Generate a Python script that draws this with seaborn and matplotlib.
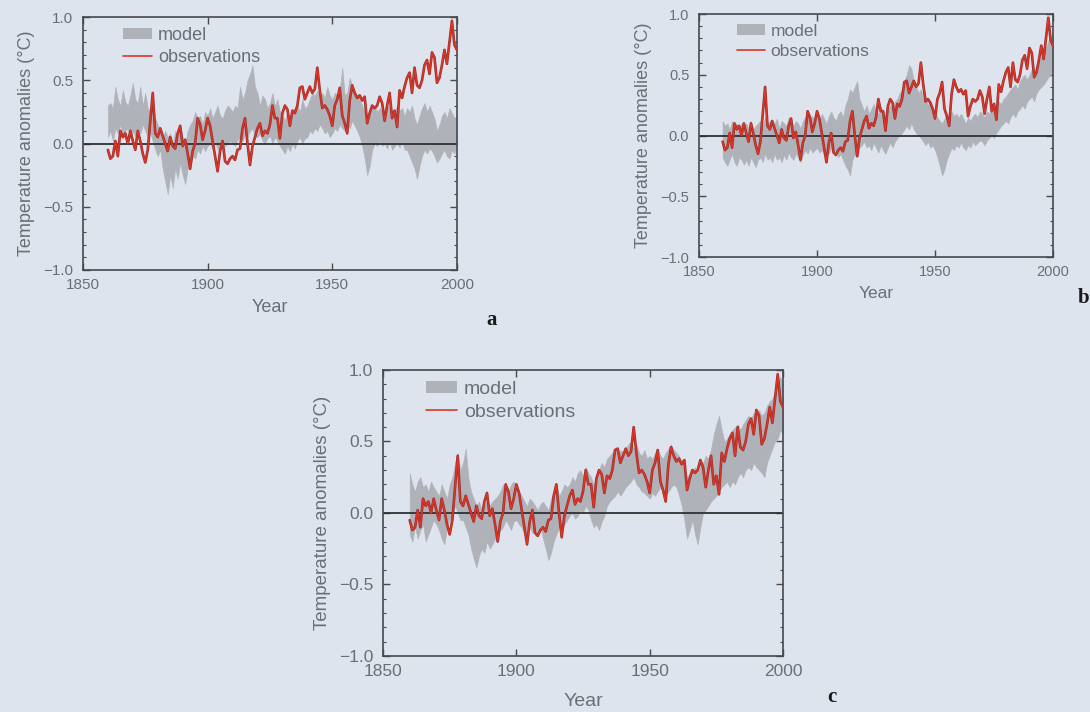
import numpy as np
import pandas as pd
import seaborn as sns
import matplotlib
matplotlib.use("Agg")
import matplotlib.pyplot as plt
from matplotlib.patches import Patch
from matplotlib.lines import Line2D
import matplotlib.patheffects as pe
from matplotlib.ticker import MultipleLocator

# ---------------------------------------------------------------- data
years = list(range(1860, 2001))

observations = [
    -0.05, -0.12, -0.10, 0.02, -0.10, 0.10, 0.05, 0.08, 0.00, 0.10,
    0.02, -0.05, 0.10, 0.02, -0.08, -0.15, -0.05, 0.18, 0.40, 0.08,
    0.05, 0.12, 0.06, 0.00, -0.06, 0.05, -0.02, -0.04, 0.08, 0.14,
    -0.02, 0.03, -0.08, -0.20, -0.06, 0.00, 0.20, 0.15, 0.03, 0.10,
    0.20, 0.14, 0.02, -0.10, -0.22, -0.06, 0.02, -0.14, -0.16, -0.12,
    -0.10, -0.13, -0.05, -0.04, 0.12, 0.20, 0.00, -0.17, -0.02, 0.05,
    0.12, 0.16, 0.06, 0.10, 0.08, 0.15, 0.30, 0.20, 0.20, 0.04,
    0.24, 0.30, 0.27, 0.14, 0.26, 0.24, 0.30, 0.44, 0.45, 0.35,
    0.40, 0.45, 0.40, 0.43, 0.60, 0.42, 0.28, 0.30, 0.27, 0.22,
    0.14, 0.30, 0.35, 0.44, 0.22, 0.16, 0.08, 0.34, 0.46, 0.40,
    0.36, 0.38, 0.34, 0.37, 0.16, 0.24, 0.30, 0.28, 0.30, 0.37,
    0.32, 0.18, 0.30, 0.40, 0.20, 0.26, 0.13, 0.42, 0.36, 0.45,
    0.52, 0.56, 0.40, 0.60, 0.46, 0.44, 0.50, 0.62, 0.66, 0.55,
    0.72, 0.68, 0.48, 0.52, 0.62, 0.74, 0.63, 0.80, 0.97, 0.78,
    0.74,
]

# model ensemble range, natural forcing only
natural_low = [
    0.05, 0.10, 0.02, 0.12, 0.08, 0.15, 0.05, 0.10, 0.12, 0.04,
    0.10, 0.06, 0.12, 0.08, 0.15, 0.10, 0.05, 0.08, 0.02, -0.05,
    -0.10, -0.05, -0.20, -0.30, -0.40, -0.25, -0.35, -0.20, -0.28, -0.15,
    -0.25, -0.32, -0.20, -0.18, -0.10, -0.12, -0.05, -0.08, -0.02, -0.06,
    -0.02, 0.00, -0.04, 0.02, -0.05, 0.00, 0.03, -0.02, 0.00, 0.02,
    0.00, -0.02, 0.03, 0.05, 0.02, 0.08, 0.05, 0.10, 0.12, 0.05,
    0.05, 0.08, 0.02, 0.00, 0.04, 0.06, 0.00, 0.05, 0.02, -0.02,
    -0.05, -0.08, -0.02, -0.06, 0.00, -0.04, 0.02, 0.05, 0.00, 0.04,
    0.05, 0.10, 0.08, 0.12, 0.10, 0.15, 0.12, 0.08, 0.10, 0.05,
    0.08, 0.12, 0.10, 0.15, 0.12, 0.10, 0.15, 0.12, 0.18, 0.14,
    0.10, 0.05, -0.02, -0.12, -0.25, -0.18, -0.05, 0.00, -0.02, 0.02,
    -0.02, 0.00, -0.04, 0.02, -0.05, -0.02, 0.00, -0.03, 0.02, -0.05,
    -0.05, -0.10, -0.15, -0.20, -0.28, -0.18, -0.10, -0.05, -0.08, -0.04,
    -0.06, -0.10, -0.15, -0.12, -0.08, -0.05, -0.10, -0.12, -0.05, -0.08,
    0.00,
]
natural_high = [
    0.30, 0.32, 0.28, 0.45, 0.35, 0.30, 0.42, 0.33, 0.30, 0.38,
    0.48, 0.35, 0.32, 0.45, 0.30, 0.40, 0.28, 0.25, 0.35, 0.20,
    0.15, 0.10, 0.05, 0.10, 0.05, 0.08, 0.00, 0.10, 0.05, 0.15,
    0.05, 0.00, 0.10, 0.15, 0.18, 0.25, 0.20, 0.22, 0.15, 0.25,
    0.22, 0.28, 0.20, 0.25, 0.30, 0.22, 0.20, 0.26, 0.30, 0.28,
    0.25, 0.30, 0.28, 0.45, 0.35, 0.40, 0.50, 0.55, 0.62, 0.45,
    0.40, 0.30, 0.38, 0.35, 0.28, 0.32, 0.40, 0.30, 0.35, 0.25,
    0.22, 0.18, 0.25, 0.20, 0.26, 0.28, 0.30, 0.25, 0.35, 0.28,
    0.30, 0.35, 0.40, 0.38, 0.42, 0.35, 0.40, 0.36, 0.45, 0.38,
    0.35, 0.40, 0.38, 0.42, 0.60, 0.38, 0.40, 0.52, 0.45, 0.40,
    0.38, 0.35, 0.30, 0.25, 0.20, 0.22, 0.28, 0.30, 0.25, 0.28,
    0.25, 0.22, 0.28, 0.30, 0.22, 0.25, 0.30, 0.26, 0.28, 0.22,
    0.28, 0.25, 0.30, 0.20, 0.15, 0.22, 0.28, 0.32, 0.25, 0.30,
    0.25, 0.20, 0.10, 0.15, 0.22, 0.25, 0.20, 0.28, 0.24, 0.20,
    0.22,
]

# model ensemble range, anthropogenic forcing only
anthro_low = [
    -0.18, -0.22, -0.25, -0.20, -0.15, -0.22, -0.25, -0.18, -0.20, -0.24,
    -0.20, -0.25, -0.18, -0.22, -0.26, -0.20, -0.18, -0.22, -0.15, -0.20,
    -0.18, -0.22, -0.15, -0.20, -0.18, -0.22, -0.16, -0.20, -0.14, -0.18,
    -0.20, -0.15, -0.18, -0.22, -0.16, -0.12, -0.15, -0.10, -0.14, -0.12,
    -0.10, -0.14, -0.12, -0.16, -0.12, -0.15, -0.10, -0.14, -0.12, -0.18,
    -0.15, -0.20, -0.25, -0.28, -0.33, -0.20, -0.15, -0.18, -0.10, -0.08,
    -0.05, -0.10, -0.08, -0.12, -0.06, -0.10, -0.14, -0.08, -0.12, -0.15,
    -0.10, -0.06, -0.10, -0.05, -0.02, 0.00, 0.02, 0.05, 0.08, 0.05,
    0.10, 0.05, 0.02, 0.00, -0.02, -0.05, -0.08, -0.05, -0.10, -0.08,
    -0.12, -0.18, -0.25, -0.33, -0.28, -0.20, -0.15, -0.10, -0.12, -0.08,
    -0.10, -0.06, -0.10, -0.12, -0.08, -0.10, -0.05, -0.08, -0.06, -0.04,
    -0.05, -0.08, -0.04, -0.02, 0.00, -0.02, 0.02, 0.05, 0.08, 0.10,
    0.12, 0.10, 0.15, 0.18, 0.15, 0.20, 0.22, 0.25, 0.22, 0.28,
    0.30, 0.32, 0.28, 0.35, 0.38, 0.40, 0.42, 0.45, 0.48, 0.50,
    0.55,
]
anthro_high = [
    0.12, 0.08, 0.10, 0.05, 0.12, 0.08, 0.10, 0.06, 0.10, 0.08,
    0.10, 0.06, 0.12, 0.05, 0.08, 0.10, 0.12, 0.08, 0.15, 0.10,
    0.12, 0.08, 0.10, 0.14, 0.06, 0.12, 0.10, 0.08, 0.15, 0.12,
    0.08, 0.12, 0.10, 0.06, 0.12, 0.15, 0.18, 0.14, 0.16, 0.12,
    0.15, 0.12, 0.18, 0.14, 0.10, 0.16, 0.20, 0.15, 0.12, 0.18,
    0.20, 0.15, 0.25, 0.30, 0.38, 0.35, 0.40, 0.45, 0.30, 0.25,
    0.20, 0.25, 0.18, 0.22, 0.26, 0.20, 0.18, 0.24, 0.20, 0.16,
    0.20, 0.25, 0.22, 0.28, 0.30, 0.35, 0.38, 0.45, 0.50, 0.58,
    0.55, 0.45, 0.40, 0.35, 0.38, 0.30, 0.32, 0.25, 0.28, 0.22,
    0.20, 0.15, 0.12, 0.10, 0.14, 0.18, 0.15, 0.20, 0.16, 0.18,
    0.15, 0.18, 0.14, 0.10, 0.15, 0.12, 0.16, 0.18, 0.15, 0.20,
    0.18, 0.15, 0.20, 0.18, 0.22, 0.20, 0.25, 0.28, 0.26, 0.30,
    0.32, 0.35, 0.38, 0.40, 0.42, 0.38, 0.45, 0.48, 0.50, 0.46,
    0.50, 0.55, 0.52, 0.58, 0.62, 0.65, 0.68, 0.72, 0.78, 0.80,
    0.85,
]

# model ensemble range, natural + anthropogenic forcing
all_low = [
    -0.15, -0.20, -0.10, -0.18, -0.12, -0.08, -0.20, -0.15, -0.10, -0.05,
    -0.08, -0.12, -0.18, -0.22, -0.10, -0.05, -0.02, 0.05, 0.00, -0.05,
    -0.05, -0.10, -0.15, -0.25, -0.32, -0.38, -0.30, -0.25, -0.28, -0.20,
    -0.25, -0.22, -0.18, -0.15, -0.12, -0.10, -0.05, -0.08, -0.12, -0.06,
    -0.05, -0.08, -0.10, -0.15, -0.12, -0.10, -0.14, -0.12, -0.15, -0.10,
    -0.18, -0.25, -0.33, -0.28, -0.20, -0.15, -0.10, -0.12, -0.08, -0.05,
    -0.02, 0.00, -0.04, -0.02, 0.02, 0.00, 0.05, 0.02, -0.05, -0.10,
    -0.08, -0.12, -0.06, -0.02, 0.05, 0.08, 0.10, 0.12, 0.15, 0.12,
    0.15, 0.18, 0.20, 0.22, 0.25, 0.20, 0.18, 0.15, 0.14, 0.12,
    0.10, 0.14, 0.12, 0.15, 0.18, 0.14, 0.12, 0.15, 0.18, 0.20,
    0.18, 0.12, 0.05, -0.05, -0.18, -0.12, -0.05, -0.15, -0.22, -0.10,
    0.00, 0.02, 0.05, 0.08, 0.10, 0.12, 0.15, 0.18, 0.20, 0.22,
    0.18, 0.22, 0.20, 0.25, 0.28, 0.25, 0.30, 0.32, 0.30, 0.35,
    0.32, 0.30, 0.28, 0.25, 0.35, 0.40, 0.45, 0.50, 0.52, 0.58,
    0.55,
]
all_high = [
    0.28, 0.20, 0.15, 0.22, 0.25, 0.18, 0.20, 0.15, 0.22, 0.18,
    0.15, 0.12, 0.20, 0.15, 0.10, 0.20, 0.25, 0.35, 0.42, 0.30,
    0.35, 0.45, 0.25, 0.15, 0.10, 0.05, 0.08, 0.02, 0.05, 0.10,
    0.05, 0.08, 0.10, 0.12, 0.15, 0.20, 0.18, 0.15, 0.20, 0.22,
    0.18, 0.15, 0.12, 0.08, 0.05, 0.10, 0.08, 0.05, 0.02, 0.06,
    0.08, 0.05, 0.02, 0.10, 0.15, 0.20, 0.12, 0.15, 0.20, 0.18,
    0.20, 0.25, 0.22, 0.28, 0.30, 0.26, 0.32, 0.28, 0.25, 0.20,
    0.25, 0.30, 0.35, 0.32, 0.38, 0.40, 0.42, 0.45, 0.40, 0.44,
    0.42, 0.45, 0.48, 0.50, 0.45, 0.48, 0.42, 0.40, 0.44, 0.38,
    0.40, 0.38, 0.42, 0.45, 0.40, 0.38, 0.42, 0.45, 0.48, 0.44,
    0.42, 0.40, 0.35, 0.30, 0.25, 0.28, 0.30, 0.32, 0.28, 0.35,
    0.35, 0.40, 0.38, 0.45, 0.55, 0.62, 0.68, 0.58, 0.50, 0.52,
    0.55, 0.58, 0.60, 0.62, 0.58, 0.62, 0.65, 0.68, 0.66, 0.70,
    0.70, 0.72, 0.68, 0.70, 0.75, 0.78, 0.80, 0.85, 0.92, 0.95,
    0.90,
]

panel_letters = ["a", "b", "c"]
series_labels = ["model", "observations"]
y_ticks = [-1.0, -0.5, 0.0, 0.5, 1.0]
x_ticks = [1850, 1900, 1950, 2000]

# ---------------------------------------------------------------- style
BG = "#dde4ee"
BAND = "#b0b2b9"
RED = "#dc3626"
INK = "#6c6e75"
FRAME = "#47494e"

sns.set_theme(style="ticks")
plt.rcParams["font.family"] = ["Liberation Sans", "DejaVu Sans"]
plt.rcParams["axes.unicode_minus"] = True

fig = plt.figure(figsize=(10.90, 7.12), dpi=100, facecolor=BG)

panels = [
    dict(rect=[0.0761, 0.6208, 0.3431, 0.3553], low=natural_low, high=natural_high,
         tick_fs=11.0, ylab_fs=13.0, xlab_fs=13.0, leg_fs=13.0, xpad=5,
         letter_xy=(0.446, 0.543)),
    dict(rect=[0.6413, 0.6390, 0.3248, 0.3413], low=anthro_low, high=anthro_high,
         tick_fs=10.5, ylab_fs=13.0, xlab_fs=12.5, leg_fs=12.5, xpad=5,
         letter_xy=(0.999, 0.575)),
    dict(rect=[0.3514, 0.0787, 0.3670, 0.4017], low=all_low, high=all_high,
         tick_fs=12.5, ylab_fs=13.5, xlab_fs=14.0, leg_fs=14.0, xpad=10,
         letter_xy=(0.759, 0.014)),
]

for p, letter in zip(panels, panel_letters):
    ax = fig.add_axes(p["rect"])
    ax.set_facecolor(BG)

    df = pd.DataFrame({"Year": years, "obs": observations,
                       "low": p["low"], "high": p["high"]})

    ax.fill_between(df["Year"], df["low"], df["high"], color=BAND,
                    linewidth=0.4, edgecolor=BAND, zorder=1)
    ax.axhline(0.0, color="#2e3033", lw=1.3, zorder=2)
    sns.lineplot(data=df, x="Year", y="obs", ax=ax, color=RED, lw=1.0,
                 zorder=3, path_effects=[pe.Stroke(linewidth=1.9, foreground="#9a2e2c"),
                                         pe.Normal()])

    ax.set_xlim(1850, 2000)
    ax.set_ylim(-1.0, 1.0)
    ax.set_xticks(x_ticks)
    ax.set_yticks(y_ticks)
    ax.set_yticklabels([f"{v:.1f}".replace("-", "\u2212") for v in y_ticks])
    ax.yaxis.set_minor_locator(MultipleLocator(0.1))
    ax.tick_params(which="both", direction="in", top=True, right=True,
                   colors=FRAME, labelcolor=INK, labelsize=p["tick_fs"])
    ax.tick_params(axis="y", which="major", pad=7)
    ax.tick_params(axis="x", which="major", pad=6)
    ax.tick_params(which="major", length=5, width=1.0)
    ax.tick_params(which="minor", length=2.5, width=0.8)
    for s in ax.spines.values():
        s.set_color(FRAME)
        s.set_linewidth(1.2)

    ax.set_xlabel("Year", color=INK, fontsize=p["xlab_fs"], labelpad=p["xpad"])
    ax.set_ylabel("Temperature anomalies (°C)", color=INK, fontsize=p["ylab_fs"],
                  labelpad=6)

    handles = [Patch(facecolor=BAND, edgecolor="none"),
               Line2D([0], [0], color=RED, lw=1.2)]
    leg = ax.legend(handles, series_labels, loc="upper left",
                    bbox_to_anchor=(0.08, 1.0), frameon=False,
                    fontsize=p["leg_fs"], handlelength=1.6, handleheight=0.6,
                    handletextpad=0.35, labelspacing=0.3, borderaxespad=0.15)
    for t in leg.get_texts():
        t.set_color(INK)

    fig.text(p["letter_xy"][0], p["letter_xy"][1], letter, fontsize=15,
             fontweight="bold", family=["Liberation Serif", "DejaVu Serif"],
             color="#1a1a1a", ha="right" if letter == "b" else "left",
             va="baseline")

fig.savefig("out.png", dpi=100, facecolor=BG)
